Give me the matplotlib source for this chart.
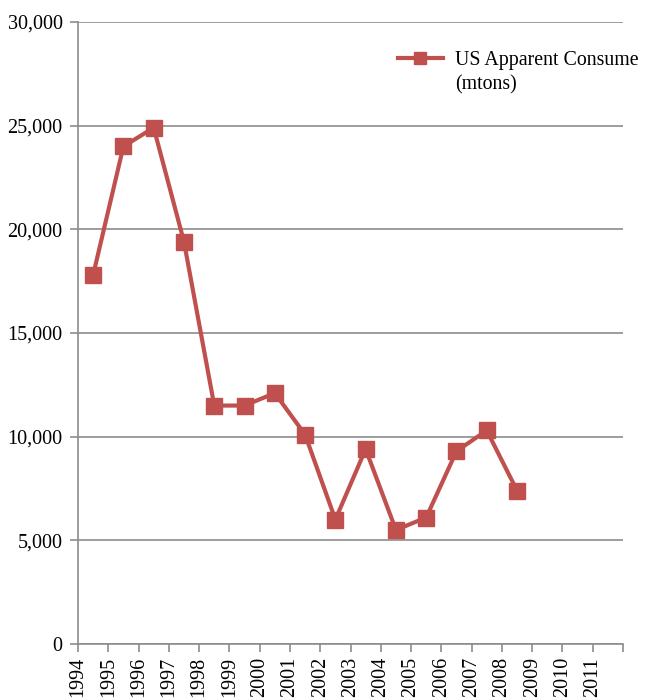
import matplotlib
matplotlib.use("Agg")
from matplotlib import pyplot as plt
from matplotlib.ticker import FuncFormatter

years = list(range(1994, 2012))
plot_years = list(range(1994, 2009))
consumption = [17800, 24000, 24900, 19400, 11500, 11500, 12100, 10100,
               6000, 9400, 5500, 6100, 9300, 10300, 7400]

red = "#C0504D"
grid_gray = "#8C8C8C"

plt.rcParams["font.family"] = ["Liberation Serif", "DejaVu Serif"]

fig = plt.figure(figsize=(6.46, 6.99), dpi=100)
ax = fig.add_axes([78 / 646, 1 - 644 / 699, 545 / 646, 622 / 699])

# points sit in the middle of each year slot
xs = [y + 0.5 for y in plot_years]
ax.plot(xs, consumption, color=red, lw=3, marker="s", ms=11.5,
        label="US Apparent Consume", zorder=3)

ax.set_xlim(1994, 2012)
ax.set_ylim(0, 30000)
ax.set_yticks(range(0, 30001, 5000))
ax.yaxis.set_major_formatter(FuncFormatter(lambda v, p: f"{int(v):,}"))
ax.set_xticks(list(range(1994, 2013)))
ax.set_xticklabels([str(y) for y in years] + [""], rotation=90)

ax.grid(axis="y", color=grid_gray, lw=1.2)
ax.set_axisbelow(True)
for side in ["top", "right"]:
    ax.spines[side].set_visible(False)
ax.spines["left"].set_color(grid_gray)
ax.spines["bottom"].set_color(grid_gray)
ax.spines["left"].set_linewidth(1.2)
ax.spines["bottom"].set_linewidth(1.2)
ax.tick_params(axis="both", colors=grid_gray, labelcolor="black",
               labelsize=14.5, length=6, width=1.2)
ax.tick_params(axis="y", pad=5)

# legend: handle lines up with the first line, unit goes below
fig.legend(loc="center left", bbox_to_anchor=(398 / 646, 1 - 60 / 699),
           frameon=False, fontsize=14.3, borderpad=0, borderaxespad=0,
           handlelength=2.25, handletextpad=0.6, markerscale=0.8)
fig.text(455 / 646, 1 - 89 / 699, "(mtons)", fontsize=14.3, va="baseline")

plt.savefig("out.png")
